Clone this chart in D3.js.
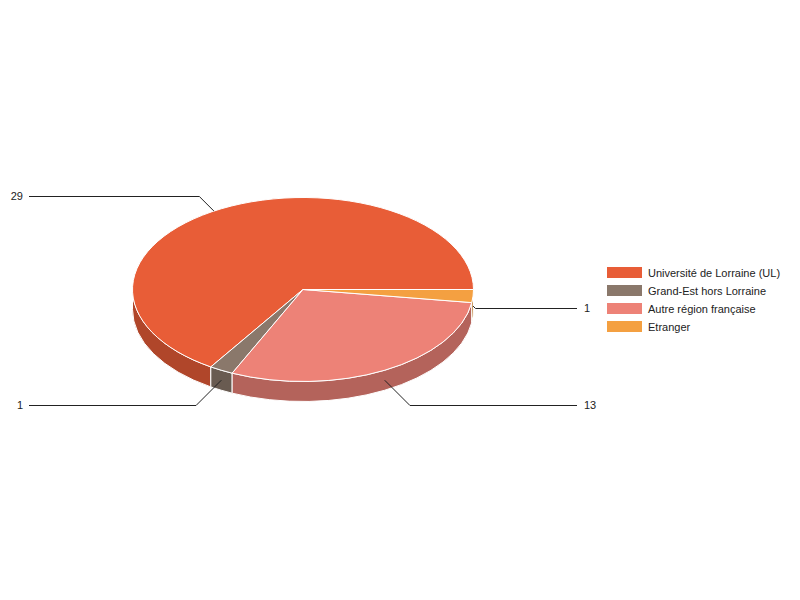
<!DOCTYPE html>
<html>
<head>
<meta charset="utf-8">
<script src="https://cdn.jsdelivr.net/npm/d3@7"></script>
<style>
  body { margin: 0; background: #fff; }
  svg { font-family: Arial, 'Liberation Sans', sans-serif; }
</style>
</head>
<body>
<div id="chart"></div>
<script>
// Chart data
const categories = [
  'Université de Lorraine (UL)',
  'Grand-Est hors Lorraine',
  'Autre région française',
  'Etranger',
];
const counts = [29, 1, 13, 1];

const TOP_COLORS = ['#e85d37', '#8a786b', '#ed8277', '#f4a041'];
const SIDE_COLORS = ['#b0462a', '#695b51', '#b4635b', '#b97a31'];

const width = 800;
const height = 600;
const cx = 303;
const cy = 289.5;
const rx = 170.5;
const ry = 92;
const depth = 20;

const svg = d3
  .select('#chart')
  .append('svg')
  .attr('width', width)
  .attr('height', height);

// d3.pie gives the angles; screen angle = 2PI - pie angle so the slices
// run anticlockwise starting from 3 o'clock
const arcs = d3.pie().sort(null).value((d) => d)(counts);
const slices = arcs.map((a, i) => ({
  i,
  value: a.value,
  lo: 2 * Math.PI - a.endAngle,
  hi: 2 * Math.PI - a.startAngle,
}));

const pt = (t, dy = 0) => [cx + rx * Math.cos(t), cy + ry * Math.sin(t) + dy];

// Side walls (only the front half of the ellipse is visible)
const walls = svg.append('g').attr('class', 'walls');
slices.forEach((s) => {
  const t1 = Math.max(s.lo, 0);
  const t2 = Math.min(s.hi, Math.PI);
  if (t2 <= t1) return;
  const [x1, y1] = pt(t1);
  const [x2, y2] = pt(t2);
  walls
    .append('path')
    .attr(
      'd',
      `M${x1},${y1} A${rx},${ry} 0 0 1 ${x2},${y2} L${x2},${y2 + depth} ` +
        `A${rx},${ry} 0 0 0 ${x1},${y1 + depth} Z`,
    )
    .attr('fill', SIDE_COLORS[s.i])
    .attr('stroke', '#fff')
    .attr('stroke-width', 1);
});

// Top faces
svg
  .append('g')
  .attr('class', 'tops')
  .selectAll('path')
  .data(slices)
  .enter()
  .append('path')
  .attr('d', (s) => {
    const [x1, y1] = pt(s.lo);
    const [x2, y2] = pt(s.hi);
    const large = s.hi - s.lo > Math.PI ? 1 : 0;
    return `M${cx},${cy} L${x1},${y1} A${rx},${ry} 0 ${large} 1 ${x2},${y2} Z`;
  })
  .attr('fill', (s) => TOP_COLORS[s.i])
  .attr('stroke', '#fff')
  .attr('stroke-width', 1)
  .attr('stroke-linejoin', 'round');

// Leader lines and value labels
const labels = svg.append('g').attr('class', 'labels');
slices.forEach((s) => {
  const mid = (s.lo + s.hi) / 2;
  const c = Math.cos(mid);
  const sn = Math.sin(mid);
  const front = sn > 0;
  // back slices hook onto the rim a little further round
  const [ax, ay] = pt(front ? mid : mid - 0.05, front ? depth / 2 : 0);
  const by = Math.round(ay + (front ? 28 : 17) * sn) + 0.5;
  const bx = ax + Math.sign(c) * Math.abs(by - ay);
  const left = c < 0;
  const endX = left ? 29 : 577;

  labels
    .append('polyline')
    .attr('points', `${ax},${ay} ${bx},${by} ${endX},${by}`)
    .attr('fill', 'none')
    .attr('stroke', '#222')
    .attr('stroke-width', 1);

  labels
    .append('text')
    .attr('x', left ? 23 : 584)
    .attr('y', by + 3.5)
    .attr('text-anchor', left ? 'end' : 'start')
    .style('font-size', '11px')
    .attr('fill', '#222')
    .text(s.value);
});

// Legend
const legend = svg.append('g').attr('id', 'legend');
categories.forEach((name, i) => {
  const y = 267 + i * 18;
  legend
    .append('rect')
    .attr('x', 607)
    .attr('y', y)
    .attr('width', 35)
    .attr('height', 11)
    .attr('fill', TOP_COLORS[i]);
  legend
    .append('text')
    .attr('x', 648)
    .attr('y', y + 9.5)
    .style('font-size', '11px')
    .attr('fill', '#222')
    .text(name);
});
</script>
</body>
</html>
